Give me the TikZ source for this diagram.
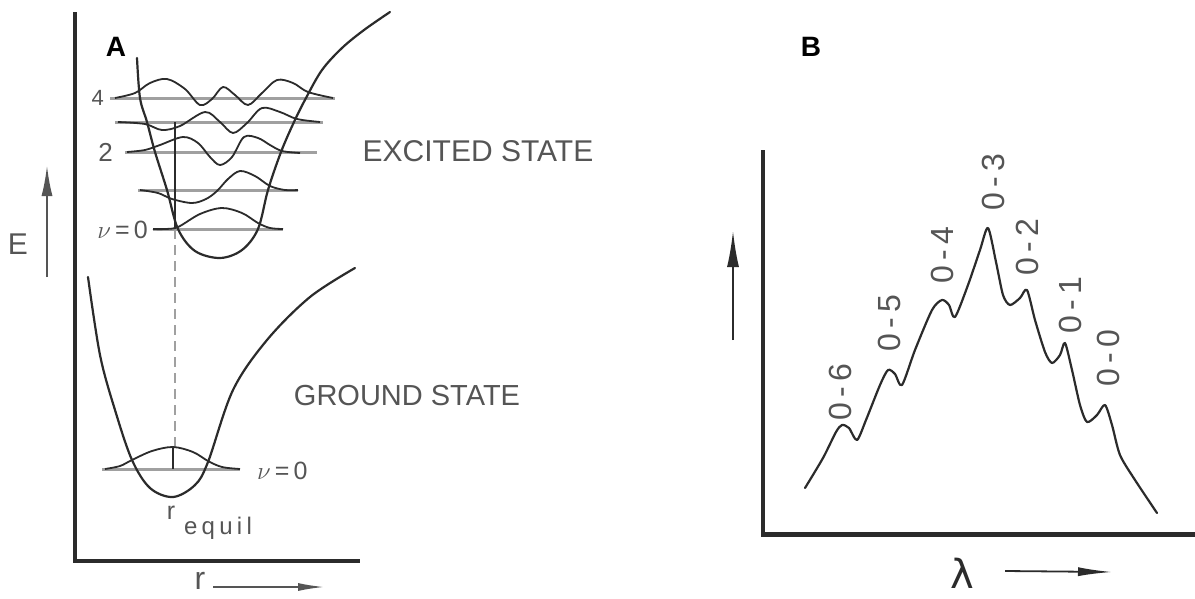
\documentclass[tikz,border=0pt]{standalone}
\usepackage{fontspec}
\setmainfont{Liberation Sans}
\newfontfamily\dejavu{DejaVu Sans}
\usetikzlibrary{arrows.meta}
\definecolor{ink}{HTML}{2B2B2B}
\definecolor{txt}{HTML}{555555}
\definecolor{lvl}{HTML}{A0A0A0}
\begin{document}
\begin{tikzpicture}[x=1pt,y=-1pt,
  axis/.style={line width=4.5pt, draw=ink},
  curve/.style={line width=2.2pt, draw=ink, line join=round, line cap=round},
  wave/.style={line width=1.8pt, draw=ink, line join=round},
  level/.style={line width=3pt, draw=lvl},
  lbl/.style={text=txt, inner sep=0pt},
  peaklbl/.style={text=txt, inner sep=0pt, rotate=90, font=\fontsize{32}{32}\selectfont},
  garrow/.style={line width=1.6pt, draw=txt, -{Latex[length=30pt,width=11pt]}},
  harrow/.style={line width=1.6pt, draw=txt, -{Latex[length=26pt,width=8pt]}}
]
\useasboundingbox (0,0) rectangle (1195,598);
\fill[white] (0,0) rectangle (1195,598);

% ---------------- Panel A ----------------
\coordinate (aTop) at (75,12);
\coordinate (aO) at (75,561);
\coordinate (aR) at (360,561);
\draw[axis] (aTop) -- (aO) -- (aR);

\node[lbl, text=black, font=\bfseries\fontsize{28}{28}\selectfont] (A) at (116,47) {A};

\node[lbl, font=\fontsize{30}{30}\selectfont] (E) at (18,244) {E};
\coordinate (eS) at (47,277);
\coordinate (eT) at (47,166);
\draw[garrow] (eS) -- (eT);

\node[lbl, font=\fontsize{32}{32}\selectfont] (r) at (200,581) {r};
\coordinate (rS) at (213,587);
\coordinate (rT) at (324,587);
\draw[harrow] (rS) -- (rT);

% vibrational levels (excited)
\coordinate (l4a) at (110,98);  \coordinate (l4b) at (335,98);
\coordinate (l3a) at (115,122); \coordinate (l3b) at (323,122);
\coordinate (l2a) at (125,152); \coordinate (l2b) at (317,152);
\coordinate (l1a) at (138,190); \coordinate (l1b) at (298,190);
\coordinate (l0a) at (153,229); \coordinate (l0b) at (283,229);
\coordinate (g0a) at (102,469); \coordinate (g0b) at (240,469);
\draw[level] (l4a) -- (l4b);
\draw[level] (l3a) -- (l3b);
\draw[level] (l2a) -- (l2b);
\draw[level] (l1a) -- (l1b);
\draw[level] (l0a) -- (l0b);
\draw[level] (g0a) -- (g0b);

% dashed vertical (Franck-Condon)
\coordinate (dTop) at (175,122);
\coordinate (dMid) at (175,229);
\coordinate (dBot) at (175,447);
\draw[line width=1.3pt, ink] (dTop) -- (dMid);
\draw[line width=1.6pt, lvl, dash pattern=on 10pt off 6pt] (dMid) -- (dBot);

% excited potential
\draw[curve] plot[smooth, tension=0.55] coordinates {(137,58) (140,98) (147,122) (155,152) (167,190) (178,229) (195,251) (220,258) (242,250) (258,229) (268,190) (281,152) (294,122) (306,98) (322,70) (342,48) (364,30) (390,12)};

% ground potential
\draw[curve] plot[smooth, tension=0.55] coordinates {(88,277) (100,355) (115,410) (132,460) (150,488) (173,497) (195,485) (208,462) (233,390) (267,340) (310,297) (355,268)};

% wavefunctions
\draw[wave] plot[smooth, tension=0.55] coordinates {(153,229) (165,229) (178,227) (200,214) (222,208) (242,213) (258,223) (270,228) (283,229)};
\draw[wave] plot[smooth, tension=0.55] coordinates {(140,190) (158,193) (172,199) (192,203) (206,199) (217,191) (228,179) (240,171) (255,176) (270,186) (285,190) (298,190)};
\draw[wave] plot[smooth, tension=0.55] coordinates {(127,152) (145,150) (160,145) (183,137) (198,143) (210,157) (220,165) (232,157) (244,137) (258,138) (270,145) (282,151) (300,153)};
\draw[wave] plot[smooth, tension=0.55] coordinates {(118,122) (145,124) (162,130) (180,126) (205,112) (220,122) (233,133) (247,123) (262,108) (280,112) (297,119) (320,122)};
\draw[wave] plot[smooth, tension=0.55] coordinates {(115,98) (135,93) (150,83) (167,79) (185,89) (200,105) (212,99) (223,87) (235,95) (248,105) (262,93) (277,80) (293,83) (308,92) (333,98)};
\draw[wave] plot[smooth, tension=0.55] coordinates {(105,469) (120,466) (132,460) (152,451) (173,447) (193,452) (208,461) (222,467) (240,469)};
\coordinate (gTick) at (173,447);
\coordinate (gTickB) at (173,469);
\draw[line width=1.3pt, ink] (gTick) -- (gTickB);

% level labels
\node[lbl, anchor=east, font=\fontsize{22}{22}\selectfont] (n4) at (104,98) {4};
\node[lbl, anchor=east, font=\fontsize{26}{26}\selectfont] (n2) at (113,152) {2};
\node[lbl, anchor=east, font=\fontsize{25}{25}\selectfont] (n0) at (148,230) {$\nu$\,=\,0};
\node[lbl, anchor=west, font=\fontsize{25}{25}\selectfont] (g0) at (257,471) {$\nu$\,=\,0};

\node[lbl, font=\fontsize{25}{25}\selectfont] (req) at (171,513) {r};
\node[lbl, font=\fontsize{24}{24}\selectfont\addfontfeature{LetterSpace=18}] (eq) at (218,528) {equil};

\node[lbl, font=\fontsize{30}{30}\selectfont] (exc) at (478,151) {EXCITED STATE};
\node[lbl, font=\fontsize{29}{29}\selectfont] (gnd) at (407,396) {GROUND STATE};

% ---------------- Panel B ----------------
\node[lbl, text=black, font=\bfseries\fontsize{28}{28}\selectfont] (B) at (811,47) {B};

\coordinate (bTop) at (763,150);
\coordinate (bO) at (763,534.5);
\coordinate (bR) at (1195,534.5);
\draw[axis] (bTop) -- (bO) -- (bR);

\coordinate (epsS) at (733,340);
\coordinate (epsT) at (733,231);
\draw[line width=1.8pt, draw=ink, -{Latex[length=36pt,width=12pt]}] (epsS) -- (epsT);

\node[lbl, text=ink, font=\dejavu\fontsize{40}{40}\selectfont] (lam) at (962,573) {λ};
\coordinate (lS) at (1005,571);
\coordinate (lT) at (1112,572);
\draw[line width=1.8pt, draw=ink, -{Latex[length=34pt,width=9pt]}] (lS) -- (lT);

\draw[curve] plot[smooth, tension=0.45] coordinates {(805,488) (823,458) (836,432) (842,425) (849,428) (857,440) (866,420) (880,385) (888,370) (895,374) (902,385) (915,350) (932,310) (942,300) (949,305) (955,317) (968,285) (980,250) (988,228) (996,262) (1003,295) (1010,305) (1020,298) (1027,290) (1035,320) (1045,352) (1052,363) (1060,355) (1065,343) (1072,370) (1080,405) (1087,422) (1097,415) (1105,405) (1112,425) (1120,455) (1135,480) (1157,513)};

\node[peaklbl] (p6) at (840,392) {0\hspace{5pt}-\hspace{5pt}6};
\node[peaklbl] (p5) at (889,323) {0\hspace{5pt}-\hspace{5pt}5};
\node[peaklbl] (p4) at (942,255) {0\hspace{5pt}-\hspace{5pt}4};
\node[peaklbl] (p3) at (993,182) {0\hspace{5pt}-\hspace{5pt}3};
\node[peaklbl] (p2) at (1027,247) {0\hspace{5pt}-\hspace{5pt}2};
\node[peaklbl] (p1) at (1070,305) {0\hspace{5pt}-\hspace{5pt}1};
\node[peaklbl] (p0) at (1108,358) {0\hspace{5pt}-\hspace{5pt}0};
\end{tikzpicture}
\end{document}
